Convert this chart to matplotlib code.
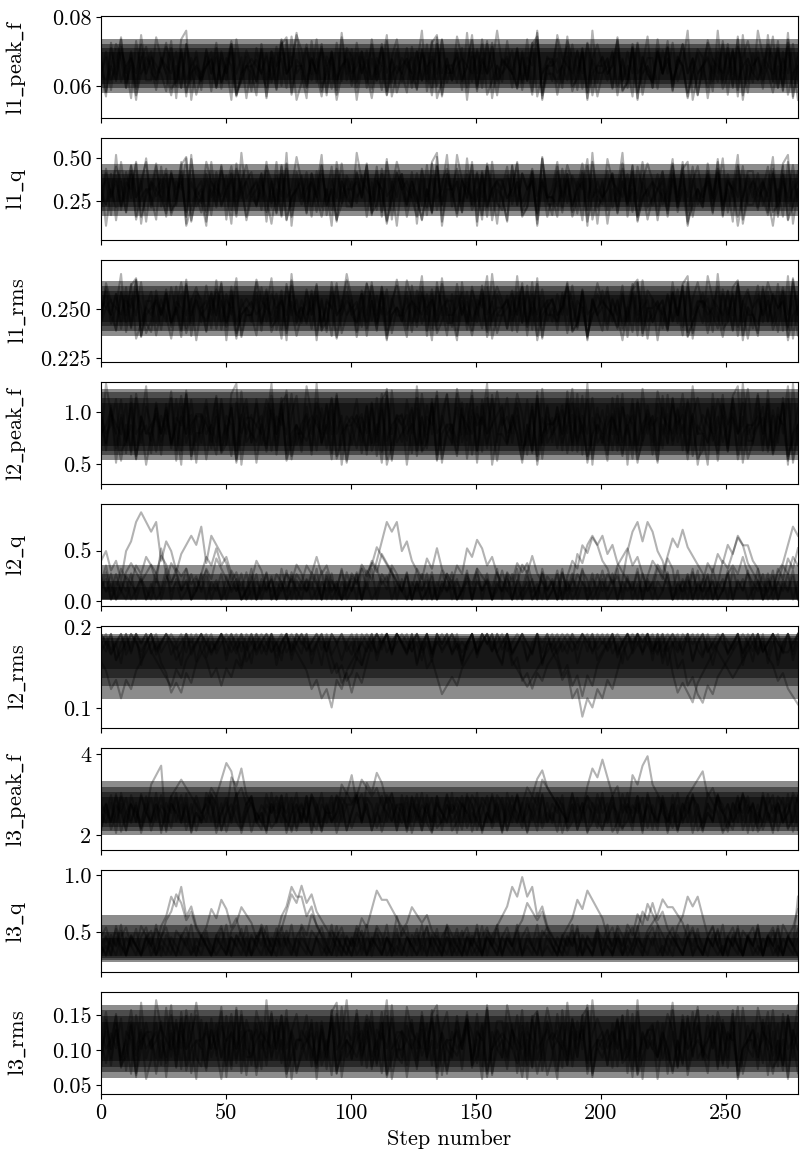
import numpy as np
import matplotlib.pyplot as plt

plt.rcParams['font.family'] = 'serif'
plt.rcParams['font.serif'] = ['cmr10']
plt.rcParams['mathtext.fontset'] = 'cm'
plt.rcParams['axes.unicode_minus'] = False
plt.rcParams['font.size'] = 16

n_steps = 280
names = ["l1_peak_f", "l1_q", "l1_rms", "l2_peak_f", "l2_q", "l2_rms",
         "l3_peak_f", "l3_q", "l3_rms"]

# value of digit 0 and digit 9 in the hand-read traces below
chain_lo = [0.0541, 0.07, 0.231, 0.42, 0.015, 0.083, 1.85, 0.21, 0.048]
chain_hi = [0.0755, 0.52, 0.267, 1.25, 0.88, 0.192, 3.95, 0.98, 0.168]
# level each walker settles around, and how far each walker strays from it
anchor = [0.0648, 0.32, 0.249, 0.835, 0.015, 0.192, 2.55, 0.35, 0.108]
walker_reach = [1.0, 0.88, 0.94, 0.8, 1.06, 0.9]

# dense walker cloud, from its faint fringe (first) to its black core (last)
cloud = [
    [(0.0580, 0.0738), (0.0595, 0.0722), (0.0607, 0.0710), (0.0617, 0.0698)],
    [(0.165, 0.465), (0.195, 0.435), (0.22, 0.41), (0.245, 0.385)],
    [(0.2365, 0.2645), (0.239, 0.262), (0.2415, 0.2595), (0.2435, 0.2575)],
    [(0.54, 1.22), (0.59, 1.19), (0.63, 1.14), (0.67, 1.09)],
    [(0.012, 0.36), (0.014, 0.27), (0.016, 0.20), (0.02, 0.14)],
    [(0.112, 0.192), (0.127, 0.19), (0.138, 0.187), (0.148, 0.183)],
    [(2.0, 3.35), (2.1, 3.2), (2.2, 3.07), (2.3, 2.95)],
    [(0.235, 0.65), (0.255, 0.56), (0.27, 0.5), (0.29, 0.45)],
    [(0.06, 0.164), (0.068, 0.157), (0.076, 0.149), (0.084, 0.141)],
]

ylims = [(0.0507, 0.0804), (0.025, 0.618), (0.223, 0.2752), (0.306, 1.29),
         (-0.05, 0.961), (0.0753, 0.2016), (1.628, 4.149), (0.149, 1.04), (0.0367, 0.183)]
yticks = [[0.06, 0.08], [0.25, 0.50], [0.225, 0.250], [0.5, 1.0], [0.0, 0.5],
          [0.1, 0.2], [2, 4], [0.5, 1.0], [0.05, 0.10, 0.15]]
yticklabels = [["0.06", "0.08"], ["0.25", "0.50"], ["0.225", "0.250"], ["0.5", "1.0"],
               ["0.0", "0.5"], ["0.1", "0.2"], ["2", "4"], ["0.5", "1.0"],
               ["0.05", "0.10", "0.15"]]
xticks = [0, 50, 100, 150, 200, 250]

# single walkers, one digit per two steps
l1_peak_f = [
    "4627351846 5264817356 2746358461 5371628459 4183756294 7364152837 3562748135 5629374815 3847265914 4358627145 6458237164 3748265147 6153847268 5647382916",
    "4735926483 3965472851 4572638145 6542738915 5836247193 6274835164 5647382916 3562748135 4627351846 6153847268 5629374815 2746358461 5264817356 4358627145",
    "4183756294 6458237164 3748265147 5371628459 7364152837 3847265914 6542738915 4735926483 4572638145 3965472851 4627351846 6274835164 5836247193 5629374815",
    "6153847268 4358627145 3562748135 5647382916 5264817356 2746358461 4183756294 4735926483 6542738915 6458237164 4572638145 3748265147 3965472851 7364152837",
    "6274835164 6542738915 4627351846 2746358461 3748265147 6153847268 4735926483 5371628459 5647382916 5836247193 6458237164 3847265914 5629374815 3965472851",
    "4358627145 7364152837 3562748135 4183756294 5264817356 4572638145 4627351846 3965472851 6542738915 5629374815 5371628459 2746358461 5647382916 4735926483",
]
l1_q = [
    "5629374815 5836247193 4627351846 7364152837 4735926483 3748265147 5371628459 3965472851 6458237164 2746358461 6153847268 6274835164 3847265914 6542738915",
    "4358627145 4183756294 5264817356 4572638145 3562748135 5647382916 7364152837 4627351846 5836247193 3847265914 3965472851 4735926483 5629374815 6458237164",
    "2746358461 6542738915 6153847268 5371628459 6274835164 3748265147 5647382916 5264817356 4183756294 4358627145 4572638145 3562748135 4627351846 4735926483",
    "3847265914 6458237164 3965472851 5629374815 7364152837 5371628459 6153847268 5836247193 2746358461 4183756294 6274835164 6542738915 3748265147 5264817356",
    "6153847268 3562748135 4183756294 5647382916 4627351846 3965472851 6542738915 5264817356 6458237164 5836247193 4735926483 4572638145 3748265147 7364152837",
    "5371628459 3847265914 2746358461 4358627145 6274835164 6458237164 7364152837 5629374815 4183756294 4627351846 4572638145 6153847268 4735926483 3562748135",
]
l1_rms = [
    "3562748135 7364152837 6274835164 4627351846 3748265147 4358627145 4735926483 3847265914 5629374815 6458237164 2746358461 6542738915 3965472851 5647382916",
    "5647382916 6153847268 5629374815 4183756294 5371628459 4572638145 3965472851 7364152837 5264817356 3748265147 5836247193 4627351846 6542738915 2746358461",
    "6542738915 4627351846 3847265914 4735926483 6458237164 6153847268 4183756294 4572638145 5647382916 6274835164 5264817356 3562748135 7364152837 5836247193",
    "3965472851 3748265147 4358627145 6458237164 3847265914 5629374815 3562748135 2746358461 4735926483 5371628459 6542738915 5647382916 6153847268 4183756294",
    "4735926483 2746358461 5264817356 5836247193 5371628459 6274835164 4627351846 4183756294 4572638145 6458237164 7364152837 6153847268 5629374815 4358627145",
    "3847265914 5647382916 4572638145 3965472851 4627351846 5371628459 5264817356 6153847268 6274835164 4358627145 6542738915 3562748135 6458237164 4183756294",
]
l2_peak_f = [
    "5371628459 2746358461 6458237164 6153847268 3965472851 4627351846 5629374815 5264817356 7364152837 4572638145 3748265147 4183756294 6542738915 3847265914",
    "6274835164 4735926483 5836247193 4358627145 3562748135 6542738915 3847265914 5371628459 5647382916 5629374815 4627351846 3965472851 2746358461 3748265147",
    "7364152837 5264817356 3748265147 3562748135 2746358461 5647382916 6458237164 3965472851 5836247193 4735926483 4183756294 6153847268 5371628459 4572638145",
    "4572638145 3847265914 4627351846 6542738915 4358627145 5264817356 5371628459 4183756294 6458237164 6274835164 7364152837 5629374815 4735926483 3562748135",
    "3965472851 4627351846 6542738915 4735926483 5629374815 3562748135 6153847268 3847265914 4358627145 5647382916 5264817356 2746358461 4183756294 5836247193",
    "6458237164 5647382916 6153847268 3847265914 4627351846 5836247193 4572638145 4735926483 7364152837 3748265147 3562748135 6274835164 4358627145 5629374815",
]
l2_q = [
    "4534256898 7846531201 2312013201 2431201302 1201302130 1203246878 5643120131 2013021201 3102130120 1302013201 3120257868 7542130213 0120130213 1201302130",
    "2413102435 4263120131 3546453120 1302132013 2435342102 1302013243 1021302013 2436576453 2130120130 1302132013 1324564531 2013021302 1302134353 2130124354",
    "1302134320 1302435676 8476542313 0213012031 2132031203 1302435432 1302013021 3012031203 1324342031 2031254676 7564321302 0213012031 2435465764 3202134687",
    "3120132130 2013243423 1302031201 3021302130 2132031201 3243542302 1302013021 2013243202 1302031203 2013547687 5423130213 5432021302 1302546877 5421302130",
    "1201320121 0213021302 1324321201 3021203121 0213020131 2031302130 2013243532 1202130213 0213012031 2130213021 2013021302 1324302130 2031203120 1302132435",
    "2130213023 4354231201 3021302130 2013021324 3120213021 3243465432 1302130213 0213021302 1302435321 2031302130 2130212031 2435768654 3120130213 0213021302",
]
l2_rms = [
    "8978697989 7865343546 7897898798 6978987898 7968975645 3546898979 8796897989 7868979897 6978987968 9787968979 8978697898 7968534324 5678978979 8796897989",
    "7896789878 9789867989 7645354657 8987978968 9789879897 8698798978 9879856423 4356789878 9789867989 7898789878 9789867989 7897856342 1324567898 7978968979",
    "6534243567 8978989796 8978987896 7898789787 6534231435 6789879789 8789786978 9878978987 8978968979 7645230213 2435789878 9789878968 9789878978 6978987789",
    "9878979868 9789878978 9687989787 9789868979 8789786453 4657897989 8789796878 9787968979 7856342435 6789879897 8796897989 7868979897 6978987968 9786534210",
    "9878978968 9789786978 9878979868 9787968979 8978697898 7968978979 8796897989 7868979897 6978987968 8756453546 7897898979 8796897989 7868978968 9787968979",
    "8796897989 7654354678 9878968979 8789786978 9878979868 9787968979 8978697898 7968978979 8965434567 8978989796 7897898979 6978987968 9787654567 8978987968",
]
l3_peak_f = [
    "3425134253 6781432514 2352413524 1325342513 4253142365 7453241352 4135241325 3425134253 1425314252 3142534125 3412537689 6542314253 1425314253 4125342513",
    "2413524315 2431567654 3465798564 5214353214 2521433524 4576564324 4153241532 4315421352 4135235476 5432413542 1352143524 1532413567 8564321435 2413254135",
    "4352415324 1352435241 3254137685 4321435241 3254132541 3524132541 5243152435 1243541325 4135243152 4351243687 9756342415 3241524351 2435142354 1324513425",
    "1324352413 5243152413 2541352413 5243124351 4253142354 1325413524 3152435124 3541325413 5243152413 2541352431 5243124351 4253142354 1325413524 3152435124",
    "3241532413 2514352413 2541342513 4231524135 2413524135 4526576453 2413521432 5143251324 1532413524 2413524143 5241352415 3241352413 2543124351 4253142354",
    "1425314253 2413524135 3425134214 5231425134 2514235241 3524135241 3524132514 2352413524 1352465786 5432413524 1352431524 3152413524 1325342513 4253142351",
]
l3_q = [
    "2314213243 1245768564 3213421324 1324135687 7564312413 2431243125 3413241324 1321324134 5687978564 3213241324 1324312413 2413245767 5342132413 2413241327",
    "1324132413 2435687564 3212413241 3241324687 9786543213 2413241324 1324132413 2413241324 1324576564 3213241324 1324132465 7564321324 1324132413 2413241324",
    "3421342134 2134213421 3465764532 1342134213 4213421342 1354687765 4321342134 2134213421 3421342134 2134576876 5342134213 4213421342 1342134213 4213421346",
    "2132413213 4132143213 2413214576 5342132413 2143214321 3241321321 4576564321 3241321432 1324132143 2132413214 3213241324 5687765342 1324132143 2132413213",
    "2132413213 2413213241 3213241321 3243213241 4354324132 1324132413 2132413214 3213241324 1324132413 2132413213 2413243546 5432132413 2132413213 2413214321",
    "1213213212 3121321312 1321213213 1213241321 3213121321 3121321312 1321213213 1213121321 3213121312 1321321213 1213121321 3121321312 1321213213 1213121321",
]
l3_rms = [
    "5836247193 5371628459 5264817356 6274835164 6542738915 3562748135 6153847268 3748265147 7364152837 5629374815 4627351846 4735926483 4358627145 6458237164",
    "6458237164 5629374815 5647382916 2746358461 4572638145 4627351846 6274835164 3847265914 5371628459 6542738915 5264817356 7364152837 4183756294 3965472851",
    "3748265147 4735926483 2746358461 6153847268 4627351846 5836247193 6542738915 5647382916 3965472851 3847265914 3562748135 4358627145 4572638145 5371628459",
    "5264817356 4572638145 4183756294 3965472851 3562748135 4735926483 2746358461 4358627145 6542738915 6153847268 6458237164 7364152837 3748265147 4627351846",
    "2746358461 3965472851 7364152837 5629374815 5371628459 3847265914 4572638145 4627351846 5264817356 4183756294 5647382916 6153847268 3562748135 6274835164",
    "4627351846 6153847268 4735926483 3562748135 5836247193 4358627145 3965472851 6458237164 3748265147 4572638145 6274835164 5371628459 3847265914 7364152837",
]
chains = [l1_peak_f, l1_q, l1_rms, l2_peak_f, l2_q, l2_rms, l3_peak_f, l3_q, l3_rms]

fig, axes = plt.subplots(9, 1, figsize=(8.08, 11.61), sharex=True)
fig.subplots_adjust(left=0.125, right=0.9876, top=0.9862, bottom=0.0575, hspace=0.196)
steps = np.arange(n_steps)

for i, ax in enumerate(axes):
    for lo, hi in cloud[i]:
        ax.fill_between(steps, lo, hi, color="k", alpha=0.45, lw=0)
    for j, s in enumerate(chains[i]):
        d = np.array([int(c) for c in s.replace(" ", "")])
        x = np.linspace(0, n_steps - 1, len(d))
        y = chain_lo[i] + (chain_hi[i] - chain_lo[i]) * d / 9
        y = anchor[i] + (y - anchor[i]) * walker_reach[j]
        ax.plot(x, y, "k", alpha=0.3, lw=1.5)
    ax.set_xlim(0, n_steps - 1)
    ax.set_ylim(ylims[i])
    ax.set_yticks(yticks[i], yticklabels[i])
    ax.set_ylabel("$\\mathrm{" + names[i].replace("_", "\\_") + "}$")
    ax.yaxis.set_label_coords(-0.105, 0.5)

axes[-1].set_xticks(xticks)
axes[-1].set_xlabel("Step number")
fig.savefig("out.png", dpi=100)
